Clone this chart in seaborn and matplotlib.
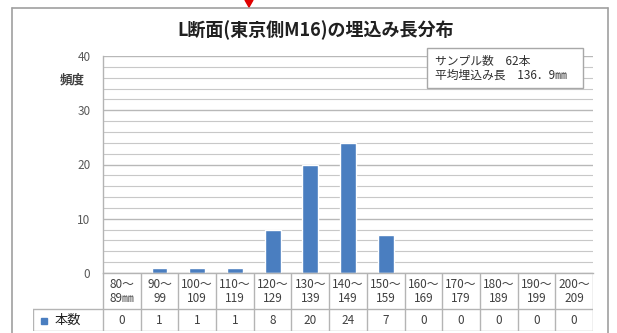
import matplotlib
matplotlib.use("Agg")
import matplotlib.pyplot as plt
from matplotlib.lines import Line2D
from matplotlib.patches import Rectangle, Polygon
from matplotlib.ticker import MultipleLocator
import seaborn as sns
import pandas as pd

# ---- data -------------------------------------------------------------
range_from = ["80～", "90～", "100～", "110～", "120～", "130～", "140～",
              "150～", "160～", "170～", "180～", "190～", "200～"]
range_to = ["89㎜", "99", "109", "119", "129", "139", "149",
            "159", "169", "179", "189", "199", "209"]
counts = [0, 1, 1, 1, 8, 20, 24, 7, 0, 0, 0, 0, 0]

title = "L断面(東京側M16)の埋込み長分布"
y_label = "頻度"
series_name = "本数"
info_lines = ["サンプル数　62本", "平均埋込み長　136．9㎜"]

df = pd.DataFrame({"range": [a + "\n" + b for a, b in zip(range_from, range_to)],
                   "count": counts})

# ---- style ------------------------------------------------------------
sns.set_theme(style="white")
plt.rcParams["font.family"] = ["Noto Sans CJK JP", "DejaVu Sans"]

BAR = "#4a7ec0"
GRID = "#c8c8c8"
LINE = "#b4b4b4"
TXT = "#404040"

W, H = 617, 333
fig = plt.figure(figsize=(W / 100, H / 100), dpi=100)
fig.patch.set_facecolor("white")


def fx(px):
    return px / W


def fy(py):
    return 1 - py / H


# plot area in pixel bounds
L, R, T, B = 103, 593, 56, 273
ax = fig.add_axes([fx(L), fy(B), (R - L) / W, (B - T) / H])
sns.barplot(data=df, x="range", y="count", color=BAR, saturation=1,
            width=0.42, ax=ax)
ax.set_xlim(-0.5, len(counts) - 0.5)
ax.set_ylim(0, 40)
ax.yaxis.set_major_locator(MultipleLocator(10))
ax.yaxis.set_minor_locator(MultipleLocator(2))
ax.grid(axis="y", which="major", color="#b8b8b8", lw=1.0)
ax.grid(axis="y", which="minor", color=GRID, lw=0.8)
ax.set_axisbelow(True)
ax.set_xticks([])
ax.set_xlabel("")
ax.set_ylabel("")
ax.tick_params(axis="y", which="both", length=0, labelsize=8.5,
               labelcolor="#595959", pad=9)
for s in ["top", "right"]:
    ax.spines[s].set_visible(False)
for s in ["left", "bottom"]:
    ax.spines[s].set_color(LINE)
    ax.spines[s].set_linewidth(1)

fig.text(fx(72), fy(80), y_label, ha="center", va="center",
         fontsize=9, fontweight="bold", color=TXT)

# ---- data table under the bars ---------------------------------------
TL, TB = 33, 331
col_w = (R - L) / len(counts)
ext = (L - TL) / col_w
tax = fig.add_axes([fx(TL), fy(TB), (R - TL) / W, (TB - B) / H])
tax.set_xlim(-0.5 - ext, len(counts) - 0.5)
tax.set_ylim(TB - B, 0)
tax.axis("off")

sep = 36
n = len(counts)
for k in range(n + 1):
    tax.add_line(Line2D([k - 0.5, k - 0.5], [0, TB - B], color=LINE, lw=1))
tax.add_line(Line2D([-0.5 - ext, -0.5 - ext], [sep, TB - B], color=LINE, lw=1))
tax.add_line(Line2D([-0.5 - ext, n - 0.5], [sep, sep], color=LINE, lw=1))
tax.add_line(Line2D([-0.5 - ext, n - 0.5], [TB - B - 0.5, TB - B - 0.5],
                    color=LINE, lw=1))

for i, (a, b, c) in enumerate(zip(range_from, range_to, counts)):
    tax.text(i, 12, a, ha="center", va="center", fontsize=8.5, color=TXT)
    tax.text(i, 25.5, b, ha="center", va="center", fontsize=8.5, color=TXT)
    tax.text(i, 47.5, str(c), ha="center", va="center", fontsize=8.5, color=TXT)

x0 = -0.5 - ext
tax.add_patch(Rectangle((x0 + 8 / col_w, 44.5), 6 / col_w, 6, color=BAR))
tax.text(x0 + 22 / col_w, 47.5, series_name, ha="left", va="center",
         fontsize=9.5, color="#202020")

# ---- title, info box, frame ------------------------------------------
fig.text(fx(316), fy(30), title, ha="center", va="center",
         fontsize=13, fontweight="bold", color="#202020")

fig.add_artist(Rectangle((fx(427), fy(88)), (583 - 427) / W, (88 - 48) / H,
                         transform=fig.transFigure, facecolor="white",
                         edgecolor="#a8a8a8", lw=1, zorder=5))
fig.text(fx(435), fy(61), info_lines[0], ha="left", va="center",
         fontsize=8.5, color="#303030", zorder=6)
fig.text(fx(435), fy(75), info_lines[1], ha="left", va="center",
         fontsize=8.5, color="#303030", zorder=6)

for xs, ys in [([12, 608], [8, 8]), ([12, 12], [8, 333]), ([608, 608], [8, 333])]:
    fig.add_artist(Line2D([fx(v) for v in xs], [fy(v) for v in ys],
                          transform=fig.transFigure, color="#a0a0a0", lw=1.2))
fig.add_artist(Polygon([[fx(245), fy(0)], [fx(253), fy(0)], [fx(249), fy(7)]],
                       closed=True, transform=fig.transFigure,
                       color="#e00000", zorder=7))

fig.savefig("out.png", dpi=100, facecolor="white")
